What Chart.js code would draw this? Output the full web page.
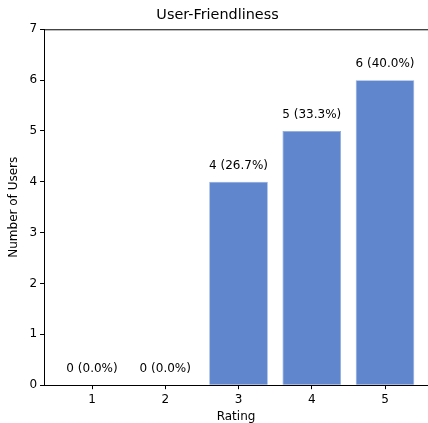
<!DOCTYPE html>
<html>
<head>
<meta charset="utf-8">
<script src="https://cdn.jsdelivr.net/npm/chart.js@4"></script>
<style>
  html, body { margin: 0; padding: 0; background: #fff; }
  #wrap { width: 428px; height: 423px; }
</style>
</head>
<body>
<div id="wrap"><canvas id="bar-rating"></canvas></div>
<script>
var ratings = [1, 2, 3, 4, 5];
var users = [0, 0, 4, 5, 6];
var yTicks = [0, 1, 2, 3, 4, 5, 6, 7];

var total = users.reduce(function(a, b){ return a + b; }, 0);

var points = [];
for (let i in ratings) {
	points.push({x: Number(i), y: users[i]});
}

// value labels above bars + top spine
var barLabels = {
	id: 'barLabels',
	afterDatasetsDraw: function(chart) {
		var ctx = chart.ctx;
		var xs = chart.scales.x, ys = chart.scales.y;
		var area = chart.chartArea;
		ctx.save();
		ctx.strokeStyle = '#000';
		ctx.lineWidth = 1;
		ctx.beginPath();
		ctx.moveTo(area.left, area.top + 0.5);
		ctx.lineTo(area.right, area.top + 0.5);
		ctx.stroke();
		ctx.font = '12px "DejaVu Sans"';
		ctx.fillStyle = '#000';
		ctx.textAlign = 'center';
		ctx.textBaseline = 'middle';
		for (let i in users) {
			var pct = (users[i] / total * 100).toFixed(1);
			ctx.fillText(users[i] + ' (' + pct + '%)', xs.getPixelForValue(Number(i)), ys.getPixelForValue(users[i]) - 16);
		}
		ctx.restore();
	}
};

Chart.defaults.font.family = '"DejaVu Sans"';
Chart.defaults.color = '#000';

var ctx = document.getElementById('bar-rating');
var barGraph = new Chart(ctx, {
	type: 'bar',
	data: {
		datasets: [{
			data: points,
			backgroundColor: 'rgb(96,135,205)',
			borderColor: 'rgb(140,170,220)',
			borderWidth: 0.8,
			barPercentage: 0.8,
			categoryPercentage: 1
		}]
	},
	options: {
		responsive: true,
		maintainAspectRatio: false,
		animation: false,
		layout: { padding: { left: 7, right: 0, top: 0, bottom: -1 } },
		plugins: {
			legend: { display: false },
			tooltip: { enabled: false },
			title: {
				display: true,
				text: 'User-Friendliness',
				font: { size: 14.4, weight: 'normal' },
				padding: { top: 7, bottom: 5 }
			}
		},
		scales: {
			x: {
				type: 'linear',
				min: -0.655,
				max: 4.587,
				offset: false,
				afterBuildTicks: function(axis) {
					axis.ticks = ratings.map(function(r, i){ return {value: i}; });
				},
				ticks: {
					callback: function(v) { return String(ratings[v]); },
					font: { size: 12 },
					padding: 3,
					maxRotation: 0
				},
				grid: { offset: false, drawOnChartArea: false, drawTicks: true, tickLength: 4, color: '#000' },
				border: { display: true, color: '#000', width: 1 },
				title: { display: true, text: 'Rating', font: { size: 12 }, padding: { top: 0, bottom: 0 } }
			},
			y: {
				min: 0,
				max: 7,
				afterBuildTicks: function(axis) {
					axis.ticks = yTicks.map(function(v){ return {value: v}; });
				},
				ticks: { font: { size: 12 }, padding: 3 },
				grid: { drawOnChartArea: false, drawTicks: true, tickLength: 4, color: '#000' },
				border: { display: true, color: '#000', width: 1 },
				title: { display: true, text: 'Number of Users', font: { size: 12 }, padding: { top: 0, bottom: 5 } }
			}
		}
	},
	plugins: [barLabels]
});
</script>
</body>
</html>
